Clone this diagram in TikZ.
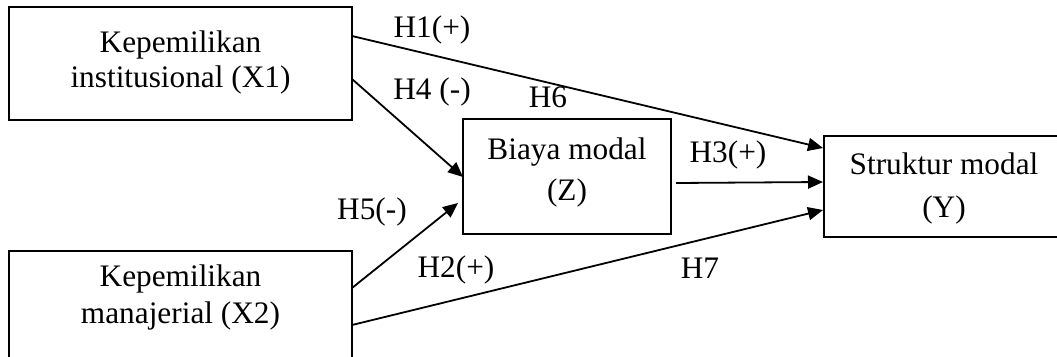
\documentclass[tikz,border=0pt]{standalone}
\usepackage{fontspec}
\setmainfont{Liberation Serif}
\usetikzlibrary{arrows.meta}
\begin{document}
\begin{tikzpicture}[x=1pt,y=-1pt,
  box/.style={draw,line width=2pt,inner sep=0pt,outer sep=0pt,rectangle},
  txt/.style={align=center,inner sep=0pt},
  lbl/.style={inner sep=0pt},
  conn/.style={line width=1.8pt,-{Triangle[length=15pt,width=13pt]}},
  every node/.append style={font=\fontsize{31.3}{35}\selectfont}]
\useasboundingbox (0,0) rectangle (1057,356);
% boxes
\node[box,minimum width=343pt,minimum height=113pt] (X1) at (180.5,63.5) {};
\node[box,minimum width=343pt,minimum height=129pt] (X2) at (180.5,315.5) {};
\node[box,minimum width=208pt,minimum height=115pt] (Z) at (567,176.5) {};
\node[box,minimum width=256pt,minimum height=101pt] (Y) at (952,186.5) {};
% box texts
\node[txt] (tX1) at (180.5,62.5) {Kepemilikan\\institusional (X1)};
\node[txt,font=\fontsize{31.3}{37}\selectfont] (tX2) at (180.5,297) {Kepemilikan\\manajerial (X2)};
\node[txt,font=\fontsize{31.3}{41}\selectfont] (tZ) at (567,172) {Biaya modal\\(Z)};
\node[txt,font=\fontsize{31.3}{43}\selectfont] (tY) at (944,188) {Struktur modal\\(Y)};
% connectors
\draw[conn] ([yshift=-29pt]X1.north east) -- ([xshift=-1pt,yshift=-12pt]Y.north west);
\draw[conn] ([yshift=-72pt]X1.north east) -- ([yshift=-58pt]Z.north west);
\draw[conn] ([yshift=-37pt]X2.north east) -- ([xshift=-5pt,yshift=-84pt]Z.north west);
\draw[conn] ([yshift=-74pt]X2.north east) -- ([xshift=-1pt,yshift=-74pt]Y.north west);
\draw[conn] ([xshift=5pt,yshift=-64pt]Z.north east) -- ([xshift=-1pt,yshift=-46pt]Y.north west);
% labels
\node[lbl] (h1) at (432,30) {H1(+)};
\node[lbl] (h4) at (432,92) {H4 (-)};
\node[lbl] (h6) at (548,97) {H6};
\node[lbl] (h3) at (728,155) {H3(+)};
\node[lbl] (h5) at (372,212) {H5(-)};
\node[lbl] (h2) at (456,270) {H2(+)};
\node[lbl] (h7) at (700,268) {H7};
\end{tikzpicture}
\end{document}
